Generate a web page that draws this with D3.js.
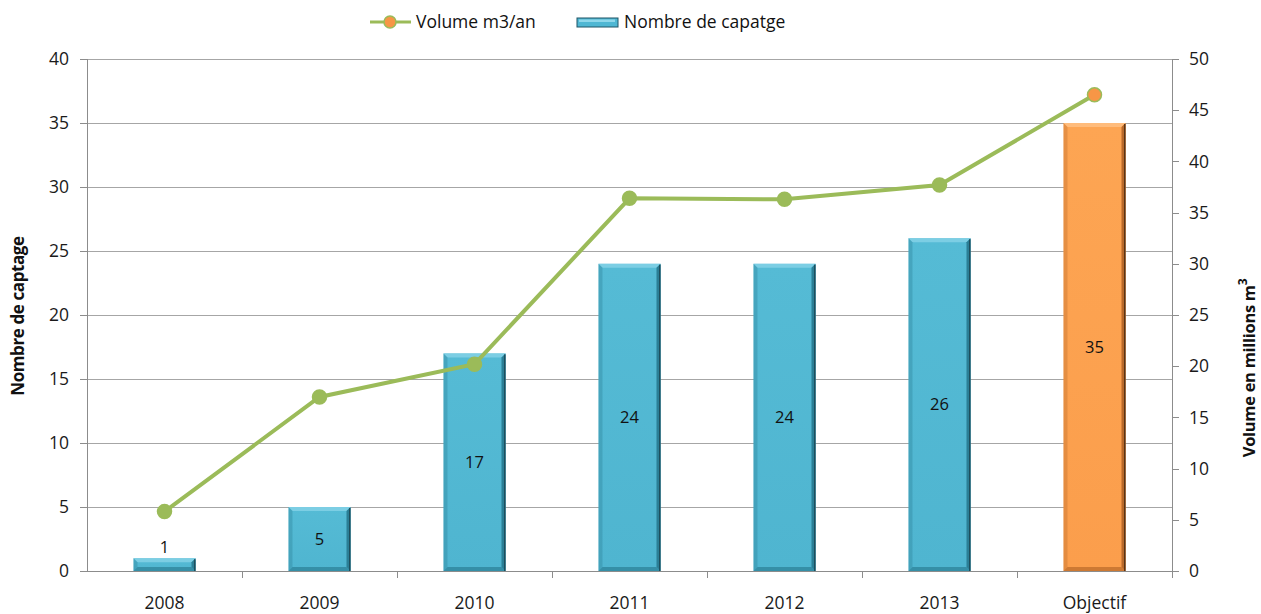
<!DOCTYPE html>
<html><head><meta charset="utf-8">
<script src="https://cdn.jsdelivr.net/npm/d3@7"></script>
<style>body{margin:0;background:#fff}svg{display:block}text{font-family:"Open Sans",sans-serif}</style>
</head><body><svg id="c" width="1261" height="614"></svg>
<script>
const categories = ["2008","2009","2010","2011","2012","2013","Objectif"];
const captages = [1,5,17,24,24,26,35];
const volumes = [5.8,17.0,20.2,36.4,36.3,37.7,46.5];
const leftTicks = [0,5,10,15,20,25,30,35,40];
const rightTicks = [0,5,10,15,20,25,30,35,40,45,50];

const FS = "17.5px";
const svg = d3.select("#c");
const L = 87, R = 1172, T = 59, B = 571;
const x = d3.scaleBand().domain(categories).range([L, R]).paddingInner(0).paddingOuter(0);
const yL = d3.scaleLinear().domain([0,40]).range([B,T]);
const yR = d3.scaleLinear().domain([0,50]).range([B,T]);
const bw = x.bandwidth()*0.4;

const defs = svg.append("defs");
function grad(id, stops){
  const g = defs.append("linearGradient").attr("id",id)
    .attr("x1","0").attr("y1","0").attr("x2","0").attr("y2","1");
  stops.forEach(s=>g.append("stop").attr("offset",s[0]).attr("stop-color",s[1]));
}
grad("blue",[[0,"#55BBD5"],[1,"#4FB5D0"]]);
grad("orange",[[0,"#FDA553"],[1,"#FB9E4C"]]);

// gridlines
svg.append("g").selectAll("line").data(leftTicks.filter(d=>d>0)).join("line")
  .attr("x1",L).attr("x2",R).attr("y1",d=>yL(d)).attr("y2",d=>yL(d))
  .attr("stroke","#a6a6a6").attr("stroke-width",1).attr("shape-rendering","crispEdges");

// axes
const axL = svg.append("g").attr("transform",`translate(${L},0)`)
  .call(d3.axisLeft(yL).tickValues(leftTicks).tickSize(7).tickPadding(11));
const axR = svg.append("g").attr("transform",`translate(${R},0)`)
  .call(d3.axisRight(yR).tickValues(rightTicks).tickSize(7).tickPadding(10));
const axB = svg.append("g").attr("transform",`translate(0,${B})`)
  .call(d3.axisBottom(x).tickSize(0).tickPadding(26));
svg.append("g").selectAll("line").data(categories.slice(1).concat(["__end"])).join("line")
  .attr("x1",d=>d==="__end"?R:x(d)).attr("x2",d=>d==="__end"?R:x(d))
  .attr("y1",B).attr("y2",B+7).attr("stroke","#8c8c8c").attr("shape-rendering","crispEdges");
[axL,axR,axB].forEach(a=>{
  a.selectAll("path,line").attr("stroke","#8c8c8c").attr("shape-rendering","crispEdges");
  a.selectAll("text").attr("fill","#1a1a1a").style("font-size",FS).style("font-family","'Open Sans',sans-serif");
});
axL.select(".domain").attr("d",`M0,${B}V${T}`);
axR.select(".domain").attr("d",`M0,${B}V${T}`);
axB.select(".domain").attr("d",`M${L},0H${R}`);

// bars
const bars = svg.append("g").selectAll("g").data(categories).join("g");
bars.each(function(c,i){
  const g = d3.select(this);
  const x0 = x(c)+(x.bandwidth()-bw)/2, y0 = yL(captages[i]), h = B - y0;
  const obj = c==="Objectif";
  const base = obj ? "url(#orange)" : "url(#blue)";
  const dark = obj ? "#5a3415" : "#1d4f5e";
  const mid = obj ? "#b9692a" : "#2b7f96";
  const light = obj ? "#FFC48A" : "#8AD4E8";
  g.append("rect").attr("x",x0).attr("y",y0).attr("width",bw).attr("height",h).attr("fill",base);
  const bev = Math.min(4, h/2);
  g.append("path").attr("d",`M${x0},${y0}H${x0+bw}L${x0+bw-bev},${y0+bev}H${x0+bev}Z`).attr("fill",light).attr("opacity",0.75);
  g.append("path").attr("d",`M${x0},${y0}L${x0+bev},${y0+bev}V${B-bev}L${x0},${B}Z`).attr("fill",mid).attr("opacity",0.35);
  g.append("path").attr("d",`M${x0+bw},${y0}L${x0+bw-bev},${y0+bev}V${B-bev}L${x0+bw},${B}Z`).attr("fill",mid);
  g.append("path").attr("d",`M${x0},${B}L${x0+bev},${B-bev}H${x0+bw-bev}L${x0+bw},${B}Z`).attr("fill",mid).attr("opacity",0.7);
  g.append("line").attr("x1",x0+bw-0.75).attr("x2",x0+bw-0.75).attr("y1",y0+1).attr("y2",B).attr("stroke",dark).attr("stroke-width",1.5);
  const inside = h > 30;
  g.append("text").attr("x",x(c)+x.bandwidth()/2)
    .attr("y", inside ? (y0+B)/2 : y0-5)
    .attr("dy", inside ? "0.35em" : "0")
    .attr("text-anchor","middle").attr("fill","#111").style("font-size","16.5px")
    .text(captages[i]);
});

// line
const cx = c => x(c)+x.bandwidth()/2;
svg.append("path").datum(categories)
  .attr("d", d3.line().x(c=>cx(c)).y((c,i)=>yR(volumes[i])))
  .attr("fill","none").attr("stroke","#9BBB59").attr("stroke-width",4);
svg.append("g").selectAll("circle").data(categories).join("circle")
  .attr("cx",c=>cx(c)).attr("cy",(c,i)=>yR(volumes[i])).attr("r",7)
  .attr("fill",c=>c==="Objectif"?"#F79646":"#9BBB59")
  .attr("stroke","#9BBB59").attr("stroke-width",1.5);

// axis titles
svg.append("text").attr("transform","translate(24,316) rotate(-90)")
  .attr("text-anchor","middle").style("font-size","17px").style("font-weight","bold")
  .style("letter-spacing","-0.4px").attr("fill","#111")
  .text("Nombre de captage");
const rt = svg.append("text").attr("transform","translate(1255,368) rotate(-90)")
  .attr("text-anchor","middle").style("font-size","16.5px").style("font-weight","bold")
  .style("letter-spacing","-0.3px").attr("fill","#111");
rt.append("tspan").text("Volume en millions  m");
rt.append("tspan").attr("dy","-8").style("font-size","12px").text("3");

// legend
const lg = svg.append("g");
lg.append("line").attr("x1",370).attr("x2",411).attr("y1",22).attr("y2",22).attr("stroke","#9BBB59").attr("stroke-width",3);
lg.append("circle").attr("cx",390).attr("cy",22).attr("r",6).attr("fill","#F79646").attr("stroke","#9BBB59").attr("stroke-width",1.5);
lg.append("text").attr("x",416).attr("y",28).style("font-size",FS).attr("fill","#111").text("Volume m3/an");
lg.append("rect").attr("x",577).attr("y",18).attr("width",41).attr("height",9).attr("fill","#4FB7D3").attr("stroke","#1f5566").attr("stroke-width",1);
lg.append("rect").attr("x",579).attr("y",19.5).attr("width",36).attr("height",2.5).attr("fill","#8FD7EA");
lg.append("text").attr("x",624).attr("y",28).style("font-size",FS).attr("fill","#111").text("Nombre de capatge");
</script></body></html>
